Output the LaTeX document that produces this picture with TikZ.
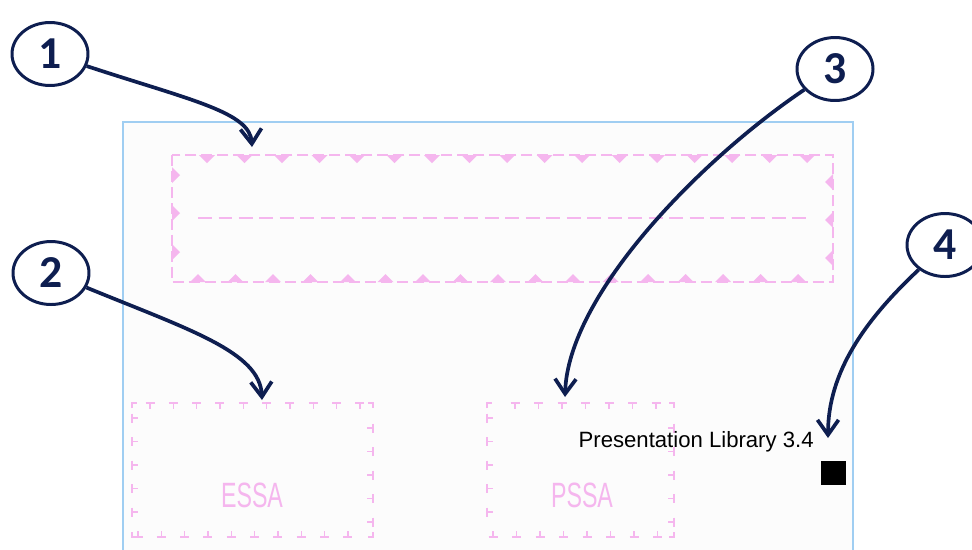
\documentclass[tikz,border=0pt]{standalone}
\usepackage{fontspec}
\setmainfont{Liberation Sans}
\newfontfamily\numfont{Carlito}
\newfontfamily\cadfont[FakeStretch=0.66]{Liberation Sans}
\usetikzlibrary{arrows.meta,shapes.geometric}
\definecolor{navy}{RGB}{14,30,80}
\definecolor{cadpink}{RGB}{245,182,238}
\definecolor{frameblue}{RGB}{160,206,242}

\begin{document}
\begin{tikzpicture}[x=0.02cm, y=-0.02cm,
    callout/.style = {draw=navy, line width=1.7pt, ellipse, minimum width=1.52cm, minimum height=1.26cm, inner sep=0pt, text=navy, font=\numfont\bfseries\fontsize{26}{26}\selectfont},
    pointer/.style = {draw=navy, line width=2.1pt, -{Straight Barb[length=8.5pt,width=12pt]}},
    pinkline/.style = {draw=cadpink, line width=1.1pt},
    tline/.style = {draw=cadpink, line width=0.8pt},
    cadtext/.style = {text=cadpink, font=\cadfont\fontsize{20}{20}\selectfont, anchor=base}]
    \useasboundingbox (0,0) rectangle (972,549);

    % drawing frame
    \fill[white!99!black] (123,122) rectangle (853,560);
    \draw[draw=frameblue, line width=1.6pt] (123,560) -- (123,122) -- (853,122) -- (853,560);

    % title block area
    \draw[pinkline, dash pattern=on 0.22cm off 0.1cm] (172,155) rectangle (833,282);
    \draw[pinkline, dash pattern=on 0.28cm off 0.13cm] (198,218) -- (808,218);
    \foreach \k in {0,...,16} {
        \fill[cadpink] ({207+37.5*\k-8},155) -- ({207+37.5*\k+8},155) -- ({207+37.5*\k},163) -- cycle;
        \fill[cadpink] ({198+37.5*\k-8},282) -- ({198+37.5*\k+8},282) -- ({198+37.5*\k},274) -- cycle;
    }
    \foreach \y in {175,213,252}
        \fill[cadpink] (172,\y-8) -- (172,\y+8) -- (180,\y) -- cycle;
    \foreach \y in {182,220,258}
        \fill[cadpink] (833,\y-8) -- (833,\y+8) -- (825,\y) -- cycle;

    % ESSA box
    \foreach \k in {0,...,9} {
        \draw[tline] ({150+23.33*\k-4.5},403) -- ({150+23.33*\k+4.5},403) ({150+23.33*\k},403) -- ({150+23.33*\k},409);
        \draw[tline] ({138+23.33*\k-4.5},537) -- ({138+23.33*\k+4.5},537) ({138+23.33*\k},537) -- ({138+23.33*\k},531);
    }
    \foreach \k in {0,...,4} {
        \draw[tline] (132,{418+23.5*\k-4.5}) -- (132,{418+23.5*\k+4.5}) (132,{418+23.5*\k}) -- (138,{418+23.5*\k});
        \draw[tline] (373,{428+23.5*\k-4.5}) -- (373,{428+23.5*\k+4.5}) (373,{428+23.5*\k}) -- (367,{428+23.5*\k});
    }
    \draw[tline] (132,408) -- (132,403) -- (137,403) (368,403) -- (373,403) -- (373,408)
        (132,532) -- (132,537) -- (136,537) (368,537) -- (373,537) -- (373,532);
    \node[cadtext] (essa) at (252,507) {ESSA};

    % PSSA box
    \foreach \k in {0,...,6}
        \draw[tline] ({515+23.5*\k-4.5},403) -- ({515+23.5*\k+4.5},403) ({515+23.5*\k},403) -- ({515+23.5*\k},409);
    \foreach \k in {0,...,7}
        \draw[tline] ({493+23.5*\k-4.5},537) -- ({493+23.5*\k+4.5},537) ({493+23.5*\k},537) -- ({493+23.5*\k},531);
    \foreach \k in {0,...,4} {
        \draw[tline] (487,{418+23.5*\k-4.5}) -- (487,{418+23.5*\k+4.5}) (487,{418+23.5*\k}) -- (493,{418+23.5*\k});
        \draw[tline] (674,{428+23.5*\k-4.5}) -- (674,{428+23.5*\k+4.5}) (674,{428+23.5*\k}) -- (668,{428+23.5*\k});
    }
    \draw[tline] (487,408) -- (487,403) -- (492,403) (669,403) -- (674,403) -- (674,408)
        (669,537) -- (674,537) -- (674,532);
    \node[cadtext] (pssa) at (582,507) {PSSA};

    % library label and marker
    \node[anchor=base east, inner sep=0pt, font=\fontsize{12.6}{12.6}\selectfont] (lib) at (814,447) {Presentation Library 3.4};
    \node[fill=black, inner sep=0pt, minimum width=0.5cm, minimum height=0.48cm] (mark) at (833.5,473) {};

    % callouts
    \node[callout] (c1) at (50,54) {1};
    \node[callout] (c2) at (51,273) {2};
    \node[callout] (c3) at (835,69) {3};
    \node[callout] (c4) at (945,245) {4};

    \coordinate (t1) at (252,147);
    \coordinate (t2) at (262,400);
    \coordinate (t3) at (565,397);
    \coordinate (t4) at (828,438);

    \draw[pointer] (c1) .. controls (190,100) and (250,112) .. (t1);
    \draw[pointer] (c2) .. controls (190,330) and (260,352) .. (t2);
    \draw[pointer] (c3) .. controls (700,160) and (568,295) .. (t3);
    \draw[pointer] (c4) .. controls (865,320) and (828,372) .. (t4);
\end{tikzpicture}
\end{document}
